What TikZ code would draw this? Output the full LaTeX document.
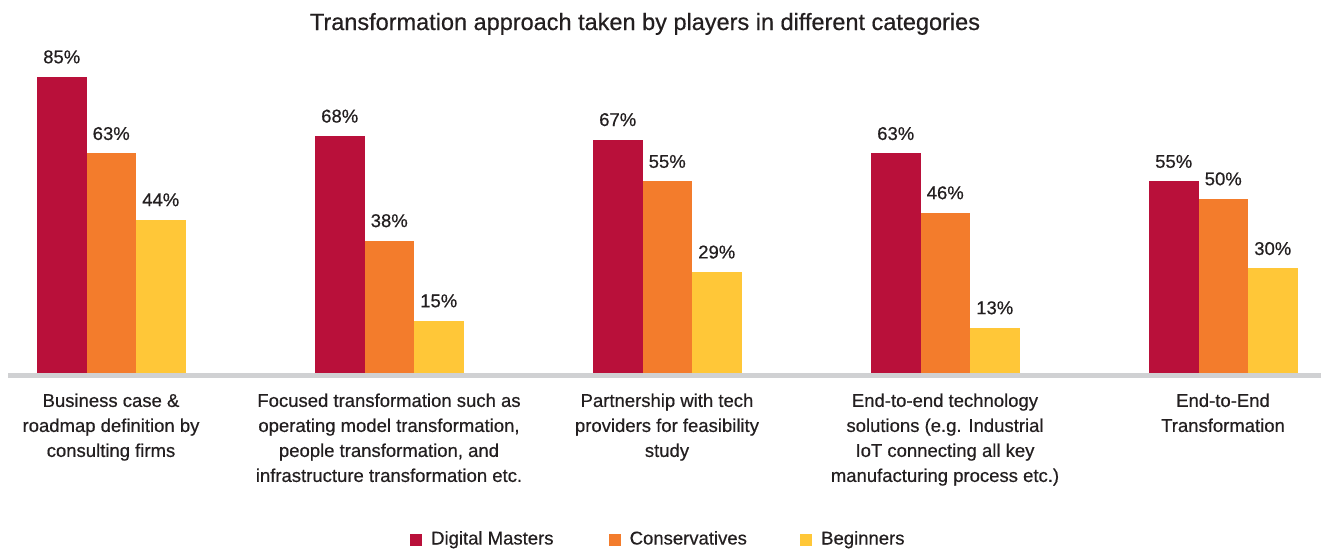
\documentclass[tikz,border=0pt]{standalone}
\usepackage{fontspec}
\setmainfont{Liberation Sans}[FakeBold=0.5]
\definecolor{dm}{HTML}{B9103A}
\definecolor{cons}{HTML}{F37C2C}
\definecolor{beg}{HTML}{FFC738}
\definecolor{axisgray}{HTML}{D0D1D3}
\definecolor{txt}{HTML}{231F20}
\begin{document}
\begin{tikzpicture}[x=1pt,y=-1pt,
  title/.style={font=\fontsize{23.5}{28}\selectfont, text=txt, inner sep=0pt, anchor=base},
  pct/.style={font=\fontsize{18.5}{22}\selectfont, text=txt, inner sep=0pt, anchor=base},
  cat/.style={font=\fontsize{18.5}{25}\selectfont, text=txt, inner sep=0pt, anchor=north, align=center},
  leg/.style={font=\fontsize{18.5}{22}\selectfont, text=txt, inner sep=0pt, anchor=base west},
  legbox/.style={minimum size=12pt, inner sep=0pt, anchor=north west}]
\useasboundingbox (0,0) rectangle (1321,552);
\fill[white] (0,0) rectangle (1321,552);
\node[title] (title) at (645,30) {Transformation approach taken by players in different categories};
\foreach \g/\a/\b/\c in {0/85/63/44, 1/68/38/15, 2/67/55/29, 3/63/46/13, 4/55/50/30} {
  \pgfmathsetmacro\x{37+278*\g}
  \fill[dm] (\x,373) rectangle ({\x+49.5},{373-\a*3.485});
  \fill[cons] ({\x+49.5},373) rectangle ({\x+99},{373-\b*3.485});
  \fill[beg] ({\x+99},373) rectangle ({\x+148.5},{373-\c*3.485});
  \node[pct] (la\g) at ({\x+24.75},{373-\a*3.485-13.5}) {\a\%};
  \node[pct] (lb\g) at ({\x+74.25},{373-\b*3.485-13.5}) {\b\%};
  \node[pct] (lc\g) at ({\x+123.75},{373-\c*3.485-13.5}) {\c\%};
}
\fill[axisgray] (8,373) rectangle (1321,377.5);
\node[cat] (c0) at (111,389.2) {\strut Business case \&\\roadmap definition by\\consulting firms};
\node[cat] (c1) at (389,389.2) {\strut Focused transformation such as\\operating model transformation,\\people transformation, and\\infrastructure transformation etc.};
\node[cat] (c2) at (667,389.2) {\strut Partnership with tech\\providers for feasibility\\study};
\node[cat] (c3) at (945,389.2) {\strut End-to-end technology\\solutions (e.g. Industrial\\IoT connecting all key\\manufacturing process etc.)};
\node[cat] (c4) at (1223,389.2) {\strut End-to-End\\Transformation};
\node[legbox, fill=dm] (k1) at (409.5,534) {};
\node[leg] (t1) at (431,544.5) {Digital Masters};
\node[legbox, fill=cons] (k2) at (608.5,534) {};
\node[leg] (t2) at (629.5,544.5) {Conservatives};
\node[legbox, fill=beg] (k3) at (800,534) {};
\node[leg] (t3) at (821,544.5) {Beginners};
\end{tikzpicture}
\end{document}
